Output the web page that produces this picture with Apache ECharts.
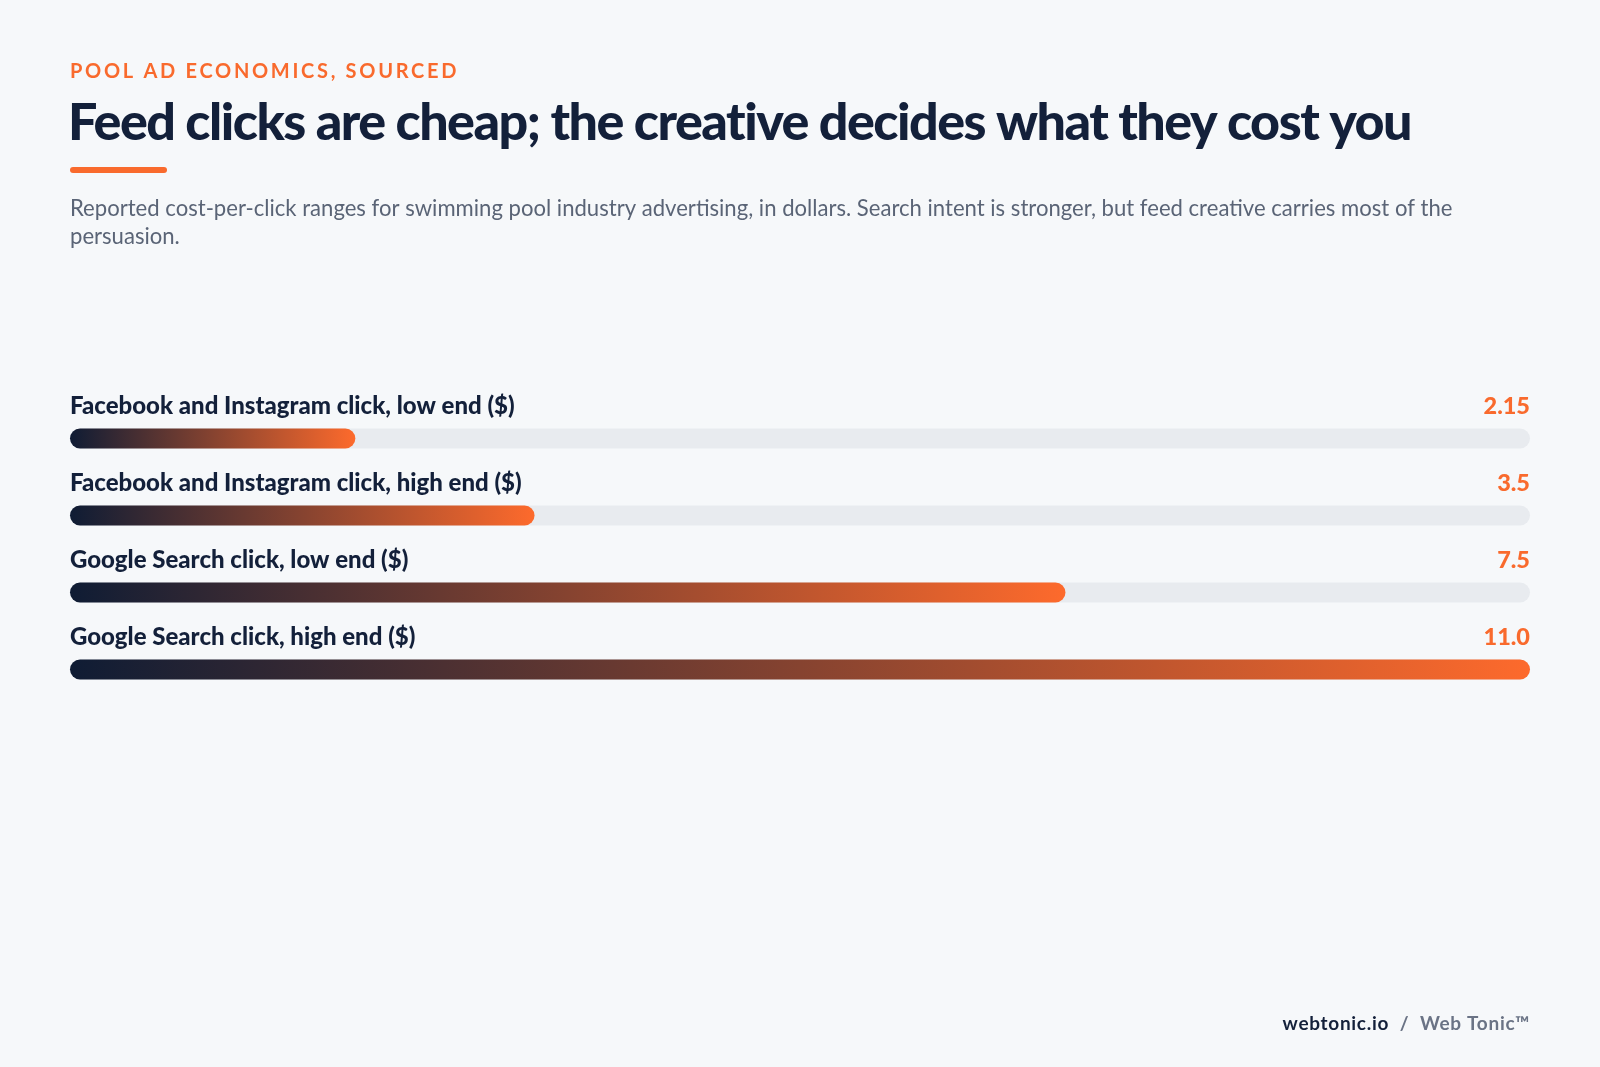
<!DOCTYPE html>
<html>
<head>
<meta charset="utf-8">
<script src="https://cdn.jsdelivr.net/npm/echarts@6/dist/echarts.min.js"></script>
<style>
html,body{margin:0;padding:0;background:#f6f8fa;}
#c{width:1600px;height:1067px;}
</style>
</head>
<body>
<div id="c"></div>
<script>
const kicker = 'POOL AD ECONOMICS, SOURCED';
const titleText = 'Feed clicks are cheap; the creative decides what they cost you';
const subtitleText = 'Reported cost-per-click ranges for swimming pool industry advertising, in dollars. Search intent is stronger, but feed creative carries most of the persuasion.';
const categories = [
  'Facebook and Instagram click, low end ($)',
  'Facebook and Instagram click, high end ($)',
  'Google Search click, low end ($)',
  'Google Search click, high end ($)'
];
const values = [2.15, 3.5, 7.5, 11.0];
const valueLabels = ['2.15', '3.5', '7.5', '11.0'];
const footerSite = 'webtonic.io';
const footerBrand = 'Web Tonic™';

// letter-spacing support keyed on distinctive font sizes
const SPACING = {'20.01px': '2.7px', '52.01px': '-1.5px', '19.01px': '0.7px'};
(function () {
  const P = CanvasRenderingContext2D.prototype;
  function apply(ctx) {
    let ls = '0px';
    for (const k in SPACING) { if (ctx.font && ctx.font.indexOf(k) >= 0) { ls = SPACING[k]; break; } }
    try { ctx.letterSpacing = ls; } catch (e) {}
  }
  ['fillText', 'strokeText', 'measureText'].forEach(function (fn) {
    const orig = P[fn];
    P[fn] = function () { apply(this); return orig.apply(this, arguments); };
  });
})();

const axisMax = Math.max(...values);
const FONT = 'Lato, "Noto Sans", sans-serif';
const HEAVY = '"Lato Black", "Lato Heavy", Lato, sans-serif';
const NAVY = '#13203a';
const ORANGE = '#f96a2d';

const chart = echarts.init(document.getElementById('c'), null, {renderer: 'canvas'});
chart.setOption({
  backgroundColor: '#f6f8fa',
  animation: false,
  grid: {left: 70, right: 70, top: 400, height: 308, containLabel: false},
  xAxis: {type: 'value', min: 0, max: axisMax, show: false},
  yAxis: {type: 'category', data: categories, inverse: true, show: false},
  series: [
    {
      type: 'bar',
      silent: true,
      barWidth: 20,
      barGap: '-100%',
      data: categories.map(() => axisMax),
      itemStyle: {color: '#e8ebef', borderRadius: 10},
      label: {
        show: true,
        position: ['100%', 0],
        align: 'right',
        verticalAlign: 'bottom',
        offset: [0, -10],
        formatter: p => valueLabels[p.dataIndex],
        fontFamily: HEAVY,
        fontWeight: 900,
        fontSize: 23.5,
        color: ORANGE
      }
    },
    {
      type: 'bar',
      barWidth: 20,
      barGap: '-100%',
      data: values,
      itemStyle: {
        borderRadius: 10,
        color: new echarts.graphic.LinearGradient(0, 0, 1, 0, [
          {offset: 0, color: '#0f1c34'},
          {offset: 1, color: '#fd6a2c'}
        ])
      },
      label: {
        show: true,
        position: [0, 0],
        align: 'left',
        verticalAlign: 'bottom',
        offset: [0, -10],
        formatter: p => categories[p.dataIndex],
        fontFamily: HEAVY,
        fontWeight: 900,
        fontSize: 24,
        color: NAVY
      }
    }
  ],
  graphic: [
    {type: 'text', left: 70, top: 60, style: {text: kicker, fontFamily: FONT, fontWeight: 'bold', fontSize: 20.01, fill: ORANGE}},
    {type: 'text', left: 68, top: 98, style: {text: titleText, fontFamily: HEAVY, fontWeight: 900, fontSize: 52.01, fill: NAVY}},
    {type: 'rect', left: 70, top: 167, shape: {width: 97, height: 6, r: 3}, style: {fill: ORANGE}},
    {type: 'text', left: 70, top: 195, style: {text: subtitleText, width: 1460, overflow: 'break', fontFamily: FONT, fontSize: 22.1, lineHeight: 28, fill: '#5a6476'}},
    {type: 'text', right: 70, top: 1014, style: {
      text: '{a|' + footerSite + '}{s|  /  }{b|' + footerBrand + '}',
      rich: {
        a: {fontFamily: FONT, fontWeight: 'bold', fontSize: 19.01, fill: NAVY, color: NAVY},
        s: {fontFamily: FONT, fontWeight: 'bold', fontSize: 19.01, fill: '#6a7385', color: '#6a7385'},
        b: {fontFamily: FONT, fontWeight: 'bold', fontSize: 19.01, fill: '#6a7385', color: '#6a7385'}
      }
    }}
  ]
});
</script>
</body>
</html>
